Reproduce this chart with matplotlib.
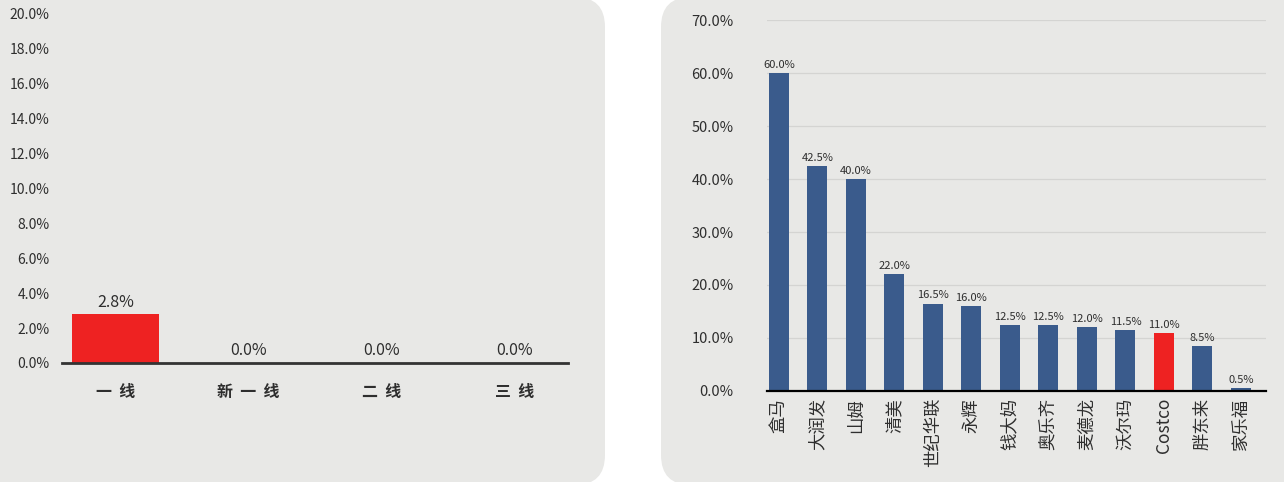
import matplotlib
matplotlib.use("Agg")
import matplotlib.pyplot as plt
from matplotlib.patches import FancyBboxPatch
from matplotlib.ticker import FuncFormatter
import numpy as np

plt.rcParams['font.family'] = ['Noto Sans CJK SC', 'DejaVu Sans']

# left chart: by city tier
tier_names = ['一  线', '新  一  线', '二  线', '三  线']
tier_vals = [2.8, 0.0, 0.0, 0.0]

# right chart: by retailer
shop_names = ['盒马', '大润发', '山姆', '清美', '世纪华联', '永辉', '钱大妈',
              '奥乐齐', '麦德龙', '沃尔玛', 'Costco', '胖东来', '家乐福']
shop_vals = [60.0, 42.5, 40.0, 22.0, 16.5, 16.0, 12.5, 12.5, 12.0, 11.5, 11.0, 8.5, 0.5]
highlight = 'Costco'

BG = '#e8e8e6'
BLUE = '#3a5b8c'
RED = '#ee2222'
TXT = '#2e2e2e'

fig = plt.figure(figsize=(12.84, 4.82), dpi=100)
fig.patch.set_facecolor('white')

# grey rounded panels (inches, so corners stay round)
for x0, x1 in [(-0.4, 6.05), (6.61, 13.3)]:
    fig.patches.append(FancyBboxPatch((x0, -0.03), x1 - x0, 4.88,
                                      boxstyle='round,pad=0,rounding_size=0.3',
                                      transform=fig.dpi_scale_trans,
                                      facecolor=BG, edgecolor='none', zorder=-5))

pct = FuncFormatter(lambda v, p: f'{v:.1f}%')

# ---- left
ax1 = fig.add_axes([0.0483, 0.2469, 0.394, 0.726])
ax1.set_facecolor('none')
x = np.arange(len(tier_names))
ax1.bar(x, tier_vals, width=0.65, color=RED, zorder=2)
for xi, v in zip(x, tier_vals):
    ax1.text(xi, v + 0.2, f'{v:.1f}%', ha='center', va='bottom', fontsize=11.5, color=TXT)
ax1.set_xlim(-0.4, 3.4)
ax1.set_ylim(0, 20)
ax1.set_yticks(np.arange(0, 20.1, 2))
ax1.yaxis.set_major_formatter(pct)
ax1.set_xticks(x)
ax1.set_xticklabels(tier_names, fontsize=11.5, color=TXT, fontweight='bold')
ax1.tick_params(axis='y', length=0, pad=9, labelsize=10, labelcolor=TXT)
ax1.tick_params(axis='x', length=0, pad=15)
for s in ['top', 'right', 'left']:
    ax1.spines[s].set_visible(False)
ax1.spines['bottom'].set_color('#333333')
ax1.spines['bottom'].set_linewidth(2)

# ---- right
ax2 = fig.add_axes([0.5973, 0.1888, 0.3887, 0.7697])
ax2.set_facecolor('none')
x2 = np.arange(len(shop_names))
cols = [RED if n == highlight else BLUE for n in shop_names]
ax2.bar(x2, shop_vals, width=0.52, color=cols, zorder=2)
for xi, v in zip(x2, shop_vals):
    ax2.text(xi, v + 0.6, f'{v:.1f}%', ha='center', va='bottom', fontsize=8, color=TXT)
ax2.set_xlim(-0.31, 12.65)
ax2.set_ylim(0, 70)
ax2.set_yticks(np.arange(0, 70.1, 10))
ax2.yaxis.set_major_formatter(pct)
ax2.grid(axis='y', color='#d4d4d2', linewidth=0.9, zorder=0)
ax2.set_axisbelow(True)
ax2.set_xticks(x2)
ax2.set_xticklabels(shop_names, rotation=90, fontsize=12.5, color=TXT, va='top')
ax2.tick_params(axis='y', length=0, pad=24, labelsize=10.5, labelcolor=TXT)
ax2.tick_params(axis='x', length=0, pad=5)
for s in ['top', 'right', 'left']:
    ax2.spines[s].set_visible(False)
ax2.spines['bottom'].set_color('black')
ax2.spines['bottom'].set_linewidth(1.6)

fig.savefig('out.png', dpi=100, facecolor='white')
